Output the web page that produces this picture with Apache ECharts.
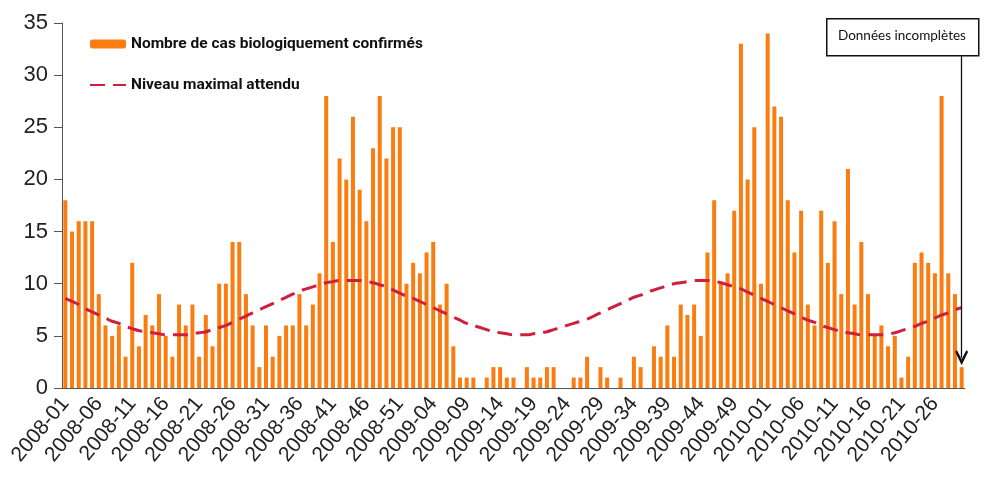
<!DOCTYPE html>
<html>
<head>
<meta charset="utf-8">
<script src="https://cdn.jsdelivr.net/npm/echarts@6/dist/echarts.min.js"></script>
<style>
  html, body { margin: 0; padding: 0; background: #fff; }
  #chart { width: 986px; height: 488px; }
</style>
</head>
<body>
<div id="chart"></div>
<script>
// weeks per year shown on the axis (2010 stops at week 30)
var yearWeeks = [[2008, 52], [2009, 53], [2010, 30]];

// weekly counts, 2008-01 .. 2010-30
var cases = [
  18, 15, 16, 16, 16, 9, 6, 5, 6, 3,
  12, 4, 7, 6, 9, 5, 3, 8, 6, 8,
  3, 7, 4, 10, 10, 14, 14, 9, 6, 2,
  6, 3, 5, 6, 6, 9, 6, 8, 11, 28,
  14, 22, 20, 26, 19, 16, 23, 28, 22, 25,
  25, 10, 12, 11, 13, 14, 8, 10, 4, 1,
  1, 1, 0, 1, 2, 2, 1, 1, 0, 2,
  1, 1, 2, 2, 0, 0, 1, 1, 3, 0,
  2, 1, 0, 1, 0, 3, 2, 0, 4, 3,
  6, 3, 8, 7, 8, 5, 13, 18, 10, 11,
  17, 33, 20, 25, 10, 34, 27, 26, 18, 13,
  17, 8, 6, 17, 12, 16, 9, 21, 8, 14,
  9, 5, 6, 4, 5, 1, 3, 12, 13, 12,
  11, 28, 11, 9, 2
];

// expected maximum level
var threshold = [
  8.6, 8.3, 8.0, 7.6, 7.3, 7.0, 6.7, 6.4, 6.2, 5.9,
  5.7, 5.5, 5.4, 5.3, 5.2, 5.1, 5.1, 5.1, 5.1, 5.2,
  5.3, 5.4, 5.6, 5.8, 6.0, 6.3, 6.6, 6.9, 7.2, 7.5,
  7.8, 8.1, 8.4, 8.7, 9.0, 9.3, 9.5, 9.7, 9.9, 10.1,
  10.2, 10.3, 10.3, 10.3, 10.3, 10.2, 10.1, 9.9, 9.7, 9.4,
  9.1, 8.8, 8.6, 8.3, 8.0, 7.7, 7.4, 7.1, 6.8, 6.5,
  6.2, 6.0, 5.8, 5.6, 5.4, 5.3, 5.2, 5.1, 5.1, 5.1,
  5.2, 5.3, 5.4, 5.6, 5.8, 6.0, 6.2, 6.4, 6.6, 6.9,
  7.2, 7.5, 7.8, 8.1, 8.4, 8.7, 8.9, 9.2, 9.4, 9.6,
  9.8, 10.0, 10.1, 10.2, 10.3, 10.3, 10.3, 10.2, 10.1, 9.9,
  9.7, 9.5, 9.2, 8.9, 8.6, 8.3, 8.0, 7.7, 7.4, 7.1,
  6.8, 6.5, 6.3, 6.0, 5.8, 5.6, 5.4, 5.3, 5.2, 5.1,
  5.1, 5.1, 5.1, 5.2, 5.3, 5.5, 5.7, 5.9, 6.2, 6.4,
  6.7, 7.0, 7.2, 7.5, 7.7
];

var legendNames = ['Nombre de cas biologiquement confirmés', 'Niveau maximal attendu'];
var noteText = 'Données incomplètes';

var categories = [];
yearWeeks.forEach(function(y) {
  for (var w = 1; w <= y[1]; w++) {
    categories.push(y[0] + '-' + (w < 10 ? '0' + w : '' + w));
  }
});
var lastWeek = categories[categories.length - 1];

var chart = echarts.init(document.getElementById('chart'), null, { renderer: 'canvas' });

var option = {
  backgroundColor: '#fff',
  animation: false,
  grid: { left: 62, right: 21, top: 23, bottom: 100, containLabel: false },
  legend: {
    orient: 'vertical',
    left: 84,
    top: 31,
    itemWidth: 36,
    itemHeight: 9,
    itemGap: 25,
    data: [
      { name: legendNames[0] },
      { name: legendNames[1], itemStyle: { opacity: 0 } }
    ],
    textStyle: {
      fontFamily: 'Roboto, "Liberation Sans", sans-serif',
      fontWeight: 'bold',
      fontSize: 15.5,
      color: '#111'
    }
  },
  xAxis: {
    type: 'category',
    data: categories,
    boundaryGap: true,
    axisLine: { lineStyle: { color: '#555', width: 1 } },
    axisTick: { interval: 4, length: 6, lineStyle: { color: '#555' } },
    axisLabel: {
      interval: 4,
      rotate: 50,
      margin: 12,
      fontFamily: '"Liberation Sans", Arial, sans-serif',
      fontSize: 21,
      color: '#222'
    },
    splitLine: { show: false }
  },
  yAxis: {
    type: 'value',
    min: 0,
    max: 35,
    interval: 5,
    axisLine: { show: true, lineStyle: { color: '#555', width: 1 } },
    axisTick: { show: true, length: 8, lineStyle: { color: '#555' } },
    axisLabel: {
      margin: 14,
      fontFamily: '"Liberation Sans", Arial, sans-serif',
      fontSize: 22,
      color: '#222'
    },
    splitLine: { show: false }
  },
  series: [
    {
      name: legendNames[0],
      type: 'bar',
      data: cases,
      barWidth: 4,
      itemStyle: { color: '#FA7D12' },
      markLine: {
        silent: true,
        symbol: ['none', 'path://M6,0 L12,12.5 L10.3,14 L6,5.5 L1.7,14 L0,12.5 Z'],
        symbolSize: [13, 15],
        label: { show: false },
        lineStyle: { color: '#111', width: 1.3, type: 'solid' },
        itemStyle: { color: '#111' },
        data: [[
          { coord: [lastWeek, 31.9] },
          { coord: [lastWeek, 2.9] }
        ]]
      }
    },
    {
      name: legendNames[1],
      type: 'line',
      data: threshold,
      smooth: true,
      symbol: 'none',
      lineStyle: { color: '#D01E3D', width: 3, type: [15, 8] },
      itemStyle: { color: '#D01E3D' },
      z: 3
    }
  ],
  graphic: [
    {
      type: 'rect',
      left: 826,
      top: 18,
      shape: { width: 152, height: 37 },
      style: { fill: '#fff', stroke: '#111', lineWidth: 1.5 },
      z: 10
    },
    {
      type: 'text',
      left: 838,
      top: 29,
      style: {
        text: noteText,
        fontFamily: 'Lato, "Open Sans", sans-serif',
        fontSize: 13.5,
        fill: '#111'
      },
      z: 11
    }
  ]
};

chart.setOption(option);
window.onresize = chart.resize;
</script>
</body>
</html>
